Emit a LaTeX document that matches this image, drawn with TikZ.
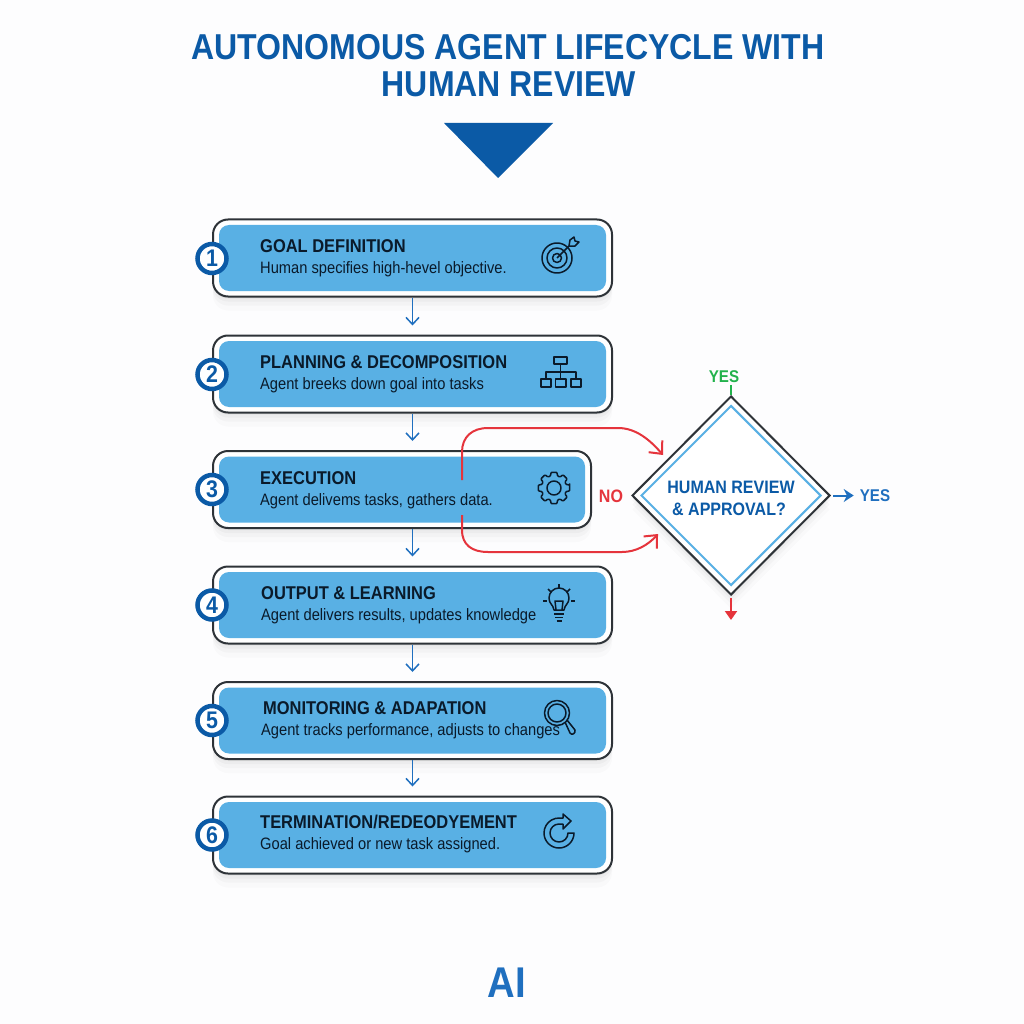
\documentclass[tikz,border=0pt]{standalone}
\usepackage{fontspec}
\setmainfont[FakeStretch=0.89]{Liberation Sans}
\usetikzlibrary{shapes.geometric,arrows.meta,shadows}

\definecolor{navy}{HTML}{0B5AA6}
\definecolor{sky}{HTML}{59B0E4}
\definecolor{ink}{HTML}{0A1A2A}
\definecolor{edge}{HTML}{2E3338}
\definecolor{flowblue}{HTML}{1F6FBF}
\definecolor{redline}{HTML}{E5343C}
\definecolor{greenyes}{HTML}{22B24C}
\definecolor{pale}{HTML}{FDFDFE}

\tikzset{
	softshadow/.style={
		drop shadow={shadow xshift=0pt,shadow yshift=-2pt,opacity=.06,fill=black!70},
		drop shadow={shadow xshift=0pt,shadow yshift=-5pt,opacity=.04,fill=black!70},
		drop shadow={shadow xshift=0pt,shadow yshift=-9pt,opacity=.03,fill=black!70},
		drop shadow={shadow xshift=0pt,shadow yshift=-14pt,opacity=.02,fill=black!70}},
	framebox/.style={draw=edge,line width=2pt,fill=white,rounded corners=15pt,minimum height=77pt,minimum width=399pt,inner sep=0pt,softshadow},
	bluebox/.style={fill=sky,rounded corners=10pt,minimum height=66pt,minimum width=387pt,inner sep=0pt},
	numdot/.style={circle,draw=navy,line width=4.5pt,fill=white,minimum size=29pt,inner sep=0pt,text=navy,font=\fontsize{24}{24}\selectfont\bfseries},
	headtext/.style={anchor=west,inner sep=0pt,text=ink,font=\fontsize{18.5}{18.5}\selectfont\bfseries},
	subtext/.style={anchor=west,inner sep=0pt,text=ink,font=\fontsize{16.5}{16.5}\selectfont},
	flow/.style={draw=flowblue,line width=1.5pt,-{Straight Barb[length=7pt,width=13pt]},shorten >=9pt},
	noflow/.style={draw=redline,line width=2pt,-{Straight Barb[length=10pt,width=18pt]}},
	icon/.style={draw=ink,line width=1.5pt,line join=round},
	answer/.style={inner sep=0pt,font=\fontsize{18}{18}\selectfont\bfseries},
}

\begin{document}
\begin{tikzpicture}[x=1pt,y=-1pt]

	\useasboundingbox (0,0) rectangle (1024,1024);
	\fill[pale] (0,0) rectangle (1024,1024);

	% title
	\node[text=navy,inner sep=0pt,font=\fontsize{36}{36}\selectfont\bfseries] (line1) at (508,47) {AUTONOMOUS AGENT LIFECYCLE WITH};
	\node[text=navy,inner sep=0pt,font=\fontsize{36}{36}\selectfont\bfseries] (line2) at (509,84) {HUMAN REVIEW};
	\fill[navy] (444,123) -- (553,123) -- (498,178) -- cycle;

	% boxes
	\node[framebox] (b1) at (412.5,258) {};
	\node[framebox] (b2) at (412.5,374) {};
	\node[framebox,minimum width=378pt] (b3) at (402,489.5) {};
	\node[framebox] (b4) at (412.5,605) {};
	\node[framebox] (b5) at (412.5,720.5) {};
	\node[framebox] (b6) at (412.5,835) {};

	\node[bluebox] (f1) at (b1) {};
	\node[bluebox] (f2) at (b2) {};
	\node[bluebox,minimum width=366pt] (f3) at (b3) {};
	\node[bluebox] (f4) at (b4) {};
	\node[bluebox] (f5) at (b5) {};
	\node[bluebox] (f6) at (b6) {};

	\node[numdot] (n1) at (212,258.5) {1};
	\node[numdot] (n2) at (212,374.5) {2};
	\node[numdot] (n3) at (212,489.5) {3};
	\node[numdot] (n4) at (212,605) {4};
	\node[numdot] (n5) at (212,720.5) {5};
	\node[numdot] (n6) at (212,835) {6};

	\node[headtext] (h1) at (260,246) {GOAL DEFINITION};
	\node[subtext] (s1) at (260,269) {Human specifies high-hevel objective.};
	\node[headtext] (h2) at (260,362) {PLANNING \& DECOMPOSITION};
	\node[subtext] (s2) at (260,385) {Agent breeks down goal into tasks};
	\node[headtext] (h3) at (260,478) {EXECUTION};
	\node[subtext] (s3) at (260,501) {Agent delivems tasks, gathers data.};
	\node[headtext] (h4) at (261,593) {OUTPUT \& LEARNING};
	\node[subtext] (s4) at (261,616) {Agent delivers results, updates knowledge};
	\node[headtext] (h5) at (263,708) {MONITORING \& ADAPATION};
	\node[subtext] (s5) at (261,731) {Agent tracks performance, adjusts to changes};
	\node[headtext] (h6) at (260,822) {TERMINATION/REDEODYEMENT};
	\node[subtext] (s6) at (260,845) {Goal achieved or new task assigned.};

	% arrows between the boxes
	\draw[flow] (b1.south) -- (b2.north);
	\draw[flow] (b2.south) -- (b2.south |- b3.north);
	\draw[flow] (b2.south |- b3.south) -- (b4.north);
	\draw[flow] (b4.south) -- (b5.north);
	\draw[flow] (b5.south) -- (b6.north);

	% review
	\node[diamond,draw=edge,line width=2pt,fill=white,minimum width=198pt,minimum height=199pt,inner sep=0pt,softshadow] (review) at (731,495.5) {};
	\node[diamond,draw=sky,line width=2pt,minimum width=180pt,minimum height=180pt,inner sep=0pt] (reviewin) at (review) {};
	\node[text=navy,inner sep=0pt,font=\fontsize{18}{18}\selectfont\bfseries] (q1) at (731,487) {HUMAN REVIEW};
	\node[text=navy,inner sep=0pt,font=\fontsize{18}{18}\selectfont\bfseries] (q2) at (729,509) {\& APPROVAL?};

	\coordinate (noup) at (462,480);
	\coordinate (nodown) at (462,515);
	\coordinate (upend) at (663,455);
	\coordinate (downend) at (658,534);
	\draw[noflow] (noup) -- (462,452) .. controls (462,437) and (472,428) .. (488,428) -- (618,428) .. controls (636,428) and (650,440) .. (upend);
	\draw[noflow] (nodown) -- (462,530) .. controls (462,545) and (472,552) .. (488,552) -- (622,552) .. controls (636,552) and (648,545) .. (downend);
	\node[answer,text=redline] (no) at (611,496) {NO};

	\node[answer,text=greenyes,font=\fontsize{17}{17}\selectfont\bfseries] (yesup) at (724,377) {YES};
	\draw[greenyes,line width=1.5pt] (review.north) -- ++(0,-10) coordinate (yestick);
	\node[answer,text=flowblue,font=\fontsize{17}{17}\selectfont\bfseries] (yesright) at (875,495.5) {YES};
	\coordinate (rightfrom) at (833,495.5);
	\draw[flowblue,line width=2pt,-{Stealth[length=10pt,width=13pt]},shorten >=6pt] (rightfrom) -- (yesright.west);
	\coordinate (downto) at (731,620);
	\draw[redline,line width=2pt,-{Triangle[length=9pt,width=12pt]}] (731,598) -- (downto);

	% target
	\draw[icon] (557,258) circle (15);
	\draw[icon] (557,258) circle (10);
	\draw[icon] (557,258) circle (4.5);
	\draw[icon] (557,258) -- (569,246);
	\draw[icon] (569,246) -- (570,240) -- (574,237) -- (575,241) -- (579,242) -- (575,246) -- cycle;

	% tree
	\draw[icon] (554,357) rectangle (567,364);
	\draw[icon] (541,379) rectangle (551,387);
	\draw[icon] (555.5,379) rectangle (566,387);
	\draw[icon] (571,379) rectangle (581,387);
	\draw[icon] (560.5,364) -- (560.5,379);
	\draw[icon] (546,379) -- (546,372) -- (576,372) -- (576,379);

	% gear
	\begin{scope}[shift={(554,488)}]
		\draw[icon,rounded corners=1pt] (-11:16) \foreach \a in {0,45,...,315}{ -- (\a-11:16) -- (\a+11:16) -- (\a+16:12.5) -- (\a+29:12.5)} -- cycle;
		\draw[icon] (0,0) circle (7);
	\end{scope}

	% bulb
	\draw[icon] (554,610) .. controls (553,604) and (549,604) .. (549,598) arc[start angle=180,end angle=360,radius=10] .. controls (569,604) and (565,604) .. (564,610) -- cycle;
	\draw[icon] (556,610) -- (555,601) -- (563,601) -- (562,610);
	\draw[icon] (554,614) -- (564,614);
	\draw[icon] (555,617.5) -- (563,617.5);
	\draw[icon] (556.5,621) -- (561.5,621);
	\draw[icon] (559,584) -- (559,588);
	\draw[icon] (548,589) -- (551,592);
	\draw[icon] (570,589) -- (567,592);
	\draw[icon] (543,601) -- (547,601);
	\draw[icon] (571,601) -- (575,601);

	% magnifier
	\draw[icon] (557,713) circle (12.5);
	\draw[icon] (557,713) circle (9);
	\draw[icon] (565,722) -- (570,733) .. controls (572,736) and (576,733) .. (575,730) -- (567,720);

	% refresh
	\draw[icon] (574,833) arc[start angle=0,end angle=272,radius=15] -- (563,818) -- (563,814) -- (571,821) -- (563,829) -- (563,824) -- (559,824) arc[start angle=270,end angle=0,radius=9] -- cycle;

	% logo
	\node[text=flowblue,inner sep=0pt,font=\fontsize{43}{43}\selectfont\bfseries] (logo) at (507,983) {AI};

\end{tikzpicture}
\end{document}
